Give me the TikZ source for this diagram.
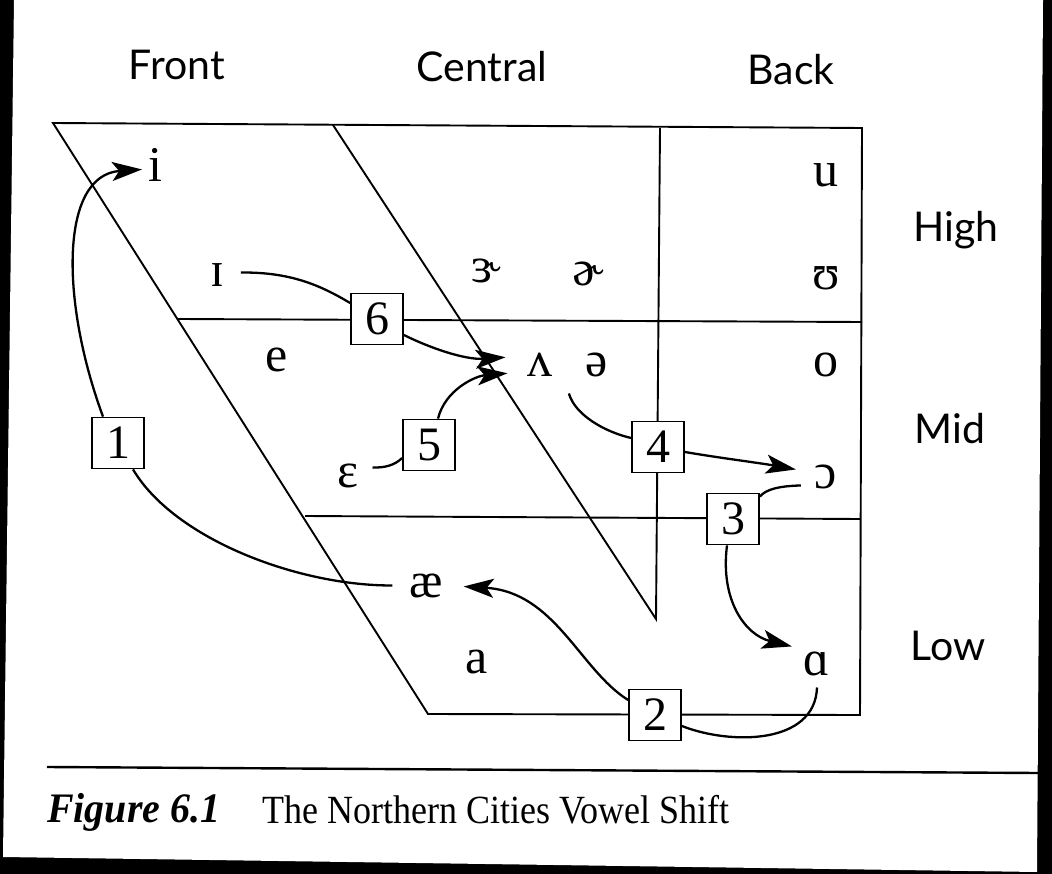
\documentclass[tikz,border=0pt]{standalone}
\usepackage{fontspec}
\setmainfont{Liberation Serif}
\newfontfamily\lblfont{Lato}
\newfontfamily\capfont[FakeStretch=0.9]{Liberation Serif}
\newfontfamily\figfont[FakeStretch=0.95]{Liberation Serif}
\usetikzlibrary{arrows.meta,calc}
\begin{document}
\begin{tikzpicture}[x=1pt,y=-1pt,
  frameline/.style={line width=1.9pt},
  vowel/.style={font=\fontsize{50}{52}\selectfont, inner sep=0pt, outer sep=0pt, anchor=base},
  numbox/.style={draw, line width=1.8pt, fill=white, minimum width=52pt, minimum height=51pt,
                 inner sep=0pt, font=\fontsize{48}{50}\selectfont},
  axislbl/.style={font=\lblfont\fontsize{41}{43}\selectfont, inner sep=0pt, anchor=base},
  conn/.style={line width=2.3pt},
  arr/.style={conn, -{Stealth[length=30pt,width=19pt,inset=7pt]}}]
\useasboundingbox (0,0) rectangle (1052,874);
% scanned page on black
\fill[black] (0,0) rectangle (1052,874);
\fill[white] (14,0) -- (1043,0) -- (1037,872) -- (3,857) -- cycle;

% chart frame
\draw[frameline] (53,123) -- (862,128) -- (860,715) -- (428,714) -- cycle;
\draw[frameline] (333,125) -- (656,619) -- (660,128);
\draw[frameline] (178,319) -- (862,322);
\draw[frameline] (305,516) -- (860,519);

% axis labels
\node[axislbl] (lfront) at (177,80) {Front};
\node[axislbl] (lcentral) at (482,82) {Central};
\node[axislbl] (lback) at (791,85) {Back};
\node[axislbl] (lhigh) at (956,242) {High};
\node[axislbl] (lmid) at (950,443) {Mid};
\node[axislbl] (llow) at (948,660) {Low};

% vowels
\node[vowel] (vi) at (155,182) {i};
\node[vowel] (vu) at (826,187) {u};
\node[vowel] (vI) at (217,287) {ɪ};
\node[vowel] (ver) at (486,283) {ɝ};
\node[vowel] (vsr) at (588,286) {ɚ};
\node[vowel] (vU) at (826,290) {ʊ};
\node[vowel] (ve) at (277,372) {e};
\node[vowel] (vV) at (540,377) {ʌ};
\node[vowel] (vschwa) at (597,377) {ə};
\node[vowel] (vo) at (826,377) {o};
\node[vowel] (veps) at (348,487) {ɛ};
\node[vowel] (vopen) at (826,488) {ɔ};
\node[vowel] (vae) at (426,597) {æ};
\node[vowel] (va) at (477,673) {a};
\node[vowel] (valpha) at (817,675) {ɑ};

% numbered boxes
\node[numbox] (b1) at (118,443) {1};
\node[numbox] (b2) at (655,715) {2};
\node[numbox] (b3) at (733,519) {3};
\node[numbox] (b4) at (658,447) {4};
\node[numbox] (b5) at (429,445) {5};
\node[numbox] (b6) at (377,319) {6};

% shift 1
\draw[conn] ($(vae.west)+(-17,0)$) .. controls (300,586) and (175,540) .. ($(b1.south)+(15,0)$);
\draw[arr] ($(b1.north)+(-15,0)$) .. controls (60,300) and (60,175) .. ($(vi.west)+(-6,4)$);
% shift 2
\draw[conn] ($(valpha.south)+(0,12)$) .. controls (815,745) and (730,745) .. ($(b2.east)+(0,11)$);
\draw[arr] ($(b2.west)+(0,-15)$) .. controls (580,670) and (555,592) .. ($(vae.east)+(21,1)$);
% shift 3
\draw[conn] ($(vopen.west)+(-14,9)$) .. controls (780,486) and (766,489) .. ($(b3.north east)+(0,4)$);
\draw[arr] ($(b3.south)+(-6,0)$) .. controls (720,600) and (745,635) .. ($(valpha.north west)+(-12,-5)$);
% shift 4
\draw[conn] ($(vschwa.south west)+(-17,16)$) .. controls (575,415) and (605,432) .. ($(b4.west)+(0,-9)$);
\draw[arr] ($(b4.east)+(0,5)$) .. controls (720,458) and (760,463) .. ($(vopen.west)+(-19,-7)$);
% shift 5
\draw[conn] ($(veps.east)+(14,-8)$) .. controls (385,468) and (395,465) .. ($(b5.west)+(0,13)$);
\draw[arr] ($(b5.north)+(9,0)$) .. controls (445,390) and (475,376) .. ($(vV.west)+(-20,8)$);
% shift 6
\draw[conn] ($(vI.east)+(17,-3)$) .. controls (290,272) and (320,285) .. ($(b6.west)+(0,-16)$);
\draw[arr] ($(b6.east)+(0,16)$) .. controls (430,348) and (465,360) .. ($(vV.west)+(-22,-8)$);

% caption
\draw[line width=2.4pt] (47,767) -- (1038,773);
\node[anchor=base west, inner sep=0pt, font=\figfont\bfseries\itshape\fontsize{42}{44}\selectfont] (figlbl) at (47,822) {Figure 6.1};
\node[anchor=base west, inner sep=0pt, font=\capfont\fontsize{40}{42}\selectfont] (figcap) at (262,823) {The Northern Cities Vowel Shift};
\end{tikzpicture}
\end{document}
